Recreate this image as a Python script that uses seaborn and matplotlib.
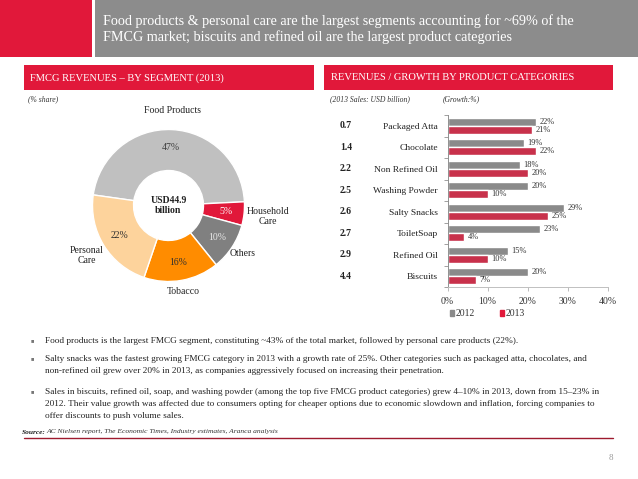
import numpy as np
import pandas as pd
import seaborn as sns
import matplotlib.pyplot as plt
import matplotlib.transforms as mtransforms
from matplotlib.patches import Rectangle
from matplotlib.lines import Line2D

# --- data ---
segments = ["Food Products", "Household\nCare", "Others", "Tobacco", "Personal\nCare"]
segment_share = [47, 5, 10, 16, 22]

categories = ["Packaged Atta", "Chocolate", "Non Refined Oil", "Washing Powder",
              "Salty Snacks", "ToiletSoap", "Refined Oil", "Biscuits"]
sales_2013 = [0.7, 1.4, 2.2, 2.5, 2.6, 2.7, 2.9, 4.4]
growth_2012 = [22, 19, 18, 20, 29, 23, 15, 20]
growth_2013 = [21, 22, 20, 10, 25, 4, 10, 7]
years = ["2012", "2013"]

title_lines = ["Food products & personal care are the largest segments accounting for ~69% of the",
               "FMCG market; biscuits and refined oil are the largest product categories"]
bullets = [
    ["Food products is the largest FMCG segment, constituting ~43% of the total market, followed by personal care products (22%)."],
    ["Salty snacks was the fastest growing FMCG category in 2013 with a growth rate of 25%. Other categories such as packaged atta, chocolates, and",
     "non-refined oil grew over 20% in 2013, as companies aggressively focused on increasing their penetration."],
    ["Sales in biscuits, refined oil, soap, and washing powder (among the top five FMCG product categories) grew 4\u201310% in 2013, down from 15\u201323% in",
     "2012. Their value growth was affected due to consumers opting for cheaper options due to economic slowdown and inflation, forcing companies to",
     "offer discounts to push volume sales."],
]

RED = "#e1183a"
GRAY_BAR = "#8a8a8a"
pie_colors = ["#c0c0c0", RED, "#808080", "#ff8c00", "#fdd39c"]
pct_colors = ["#404040", "white", "#e8e8e8", "#303030", "#303030"]
label_dist = [1.25, 1.32, 1.16, 1.15, 1.26]

sns.set_theme(style="white")
plt.rcParams['font.family'] = ['Liberation Serif', 'DejaVu Sans']

W, H = 638, 479
def fx(x):
    return x / W
def fy(y):
    return 1 - y / H

fig = plt.figure(figsize=(W / 100, H / 100), dpi=100)

def box(x0, y0, x1, y1, color):
    fig.add_artist(Rectangle((fx(x0), fy(y1)), (x1 - x0) / W, (y1 - y0) / H,
                             transform=fig.transFigure, color=color, lw=0))

# header
box(0, 0, 92, 57, RED)
box(95, 0, 638, 57, "#8c8c8c")
fig.text(fx(103), fy(21), title_lines[0], color="white", fontsize=10.2, va="center")
fig.text(fx(103), fy(37), title_lines[1], color="white", fontsize=10.2, va="center")

box(24, 65, 314, 90, RED)
box(324, 65, 613, 90, RED)
fig.text(fx(30), fy(78), "FMCG REVENUES \u2013 BY SEGMENT (2013)", color="white", fontsize=7.6, va="center")
fig.text(fx(331), fy(78), "REVENUES / GROWTH BY PRODUCT CATEGORIES", color="white", fontsize=7.6, va="center")

fig.text(fx(28), fy(99), "(% share)", fontsize=5.5, style="italic", va="center", color="#333333")
fig.text(fx(330), fy(99), "(2013 Sales: USD billion)", fontsize=5.5, style="italic", va="center", color="#333333")
fig.text(fx(443), fy(99), "(Growth:%)", fontsize=5.5, style="italic", va="center", color="#333333")

# --- donut ---
cx, cy, r = 168.5, 205.5, 76
half = 1.25 * r
ax_pie = fig.add_axes([fx(cx - half), fy(cy + half), 2 * half / W, 2 * half / H])
wedges, _ = ax_pie.pie(segment_share, colors=pie_colors, startangle=172, counterclock=False,
                       wedgeprops=dict(width=0.54, edgecolor="white", linewidth=1))
ax_pie.set_xlim(-1.25, 1.25)
ax_pie.set_ylim(-1.25, 1.25)
for w, val, name, pc, d in zip(wedges, segment_share, segments, pct_colors, label_dist):
    ang = np.deg2rad((w.theta1 + w.theta2) / 2)
    ax_pie.text(0.76 * np.cos(ang), 0.76 * np.sin(ang), f"{val}%", ha="center", va="center",
                fontsize=7, color=pc)
    ax_pie.text(d * np.cos(ang), d * np.sin(ang), name, ha="center", va="center",
                fontsize=7, color="#222222", linespacing=1.1)
ax_pie.text(0, 0, "USD44.9\nbillion", ha="center", va="center", fontsize=7,
            fontweight="bold", color="#222222", linespacing=1.2)

# --- bars ---
df = pd.DataFrame({
    "category": categories * 2,
    "growth": growth_2012 + growth_2013,
    "year": [years[0]] * len(categories) + [years[1]] * len(categories),
})
ax_bar = fig.add_axes([fx(447.5), fy(287), 160 / W, 172 / H])
sns.barplot(data=df, x="growth", y="category", hue="year", orient="h",
            palette=[GRAY_BAR, RED], width=0.76, legend=False, ax=ax_bar)
ax_bar.set_xlim(0, 40)
ax_bar.set_xticks(range(0, 41, 10))
ax_bar.set_xticklabels([f"{t}%" for t in range(0, 41, 10)], fontsize=7, color="#333333")
ax_bar.set_yticks(range(len(categories)))
ax_bar.set_yticklabels(categories, fontsize=6.8, color="#222222")
ax_bar.set_yticks(np.arange(-0.5, len(categories), 1), minor=True)
ax_bar.tick_params(axis="y", which="major", length=0, pad=7)
ax_bar.tick_params(axis="y", which="minor", length=3, width=0.6, color="#909090", left=True)
ax_bar.tick_params(axis="x", length=3, width=0.6, color="#b0b0b0", bottom=True, pad=4.5)
ax_bar.set_xlabel("")
ax_bar.set_ylabel("")
for s in ["top", "right"]:
    ax_bar.spines[s].set_visible(False)
ax_bar.spines["left"].set_color("#909090")
ax_bar.spines["left"].set_linewidth(0.7)
ax_bar.spines["bottom"].set_color("#c0c0c0")
ax_bar.spines["bottom"].set_linewidth(0.7)
for c in ax_bar.containers:
    ax_bar.bar_label(c, labels=[f"{int(v)}%" for v in c.datavalues], padding=3,
                     fontsize=6, color="#333333")

trans = mtransforms.blended_transform_factory(fig.transFigure, ax_bar.transData)
for i, v in enumerate(sales_2013):
    ax_bar.text(fx(340), i, f"{v}", transform=trans, fontsize=7, fontweight="bold",
                ha="left", va="center", color="#222222")

handles = [Rectangle((0, 0), 1, 1, color=GRAY_BAR), Rectangle((0, 0), 1, 1, color=RED)]
fig.legend(handles, years, loc="center left", bbox_to_anchor=(fx(441), fy(314)), ncol=2,
           frameon=False, fontsize=7, handlelength=0.45, handleheight=0.45,
           handletextpad=0.2, columnspacing=2.5, labelcolor="#333333")

# --- bullets ---
y_lines = [[341], [359, 371], [392, 404, 416]]
for lines, ys in zip(bullets, y_lines):
    fig.text(fx(31), fy(ys[0] - 0.5), "\u25a0", fontsize=4, color="#777777", va="center")
    for line, y in zip(lines, ys):
        fig.text(fx(45), fy(y), line, fontsize=6.7, va="center", color="#222222")

fig.text(fx(22), fy(432), "Source:", fontsize=5.3, style="italic", fontweight="bold",
         va="center", color="#222222")
fig.text(fx(46), fy(432), "AC Nielsen report, The Economic Times, Industry estimates, Aranca analysis",
         fontsize=5.4, style="italic", va="center", color="#333333")
fig.add_artist(Line2D([fx(24), fx(613)], [fy(438), fy(438)], transform=fig.transFigure,
                      color="#9e1a2e", lw=1))
fig.text(fx(611), fy(458), "8", fontsize=6.5, color="#999999", ha="center", va="center")

fig.savefig("out.png", dpi=100)
